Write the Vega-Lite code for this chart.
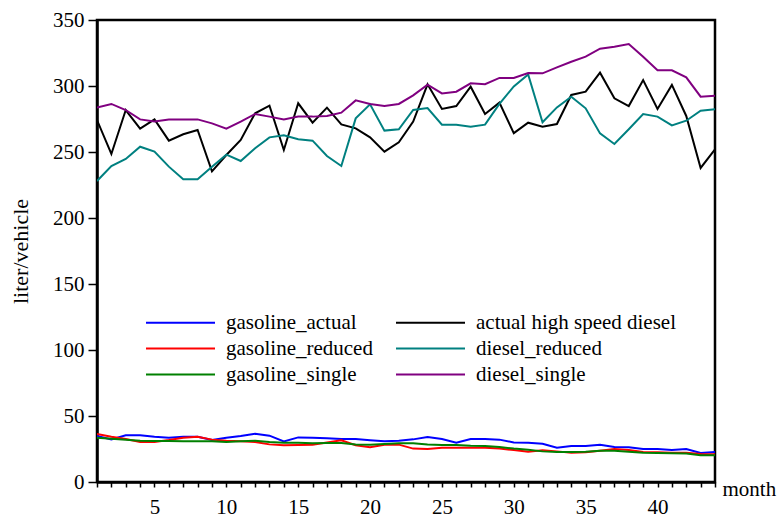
{
  "$schema": "https://vega.github.io/schema/vega-lite/v6.json",
  "width": 618,
  "height": 462,
  "autosize": {"type": "none"},
  "padding": {"left": 97, "top": 20, "right": 63, "bottom": 36},
  "background": "white",
  "config": {
    "font": "Liberation Serif",
    "view": {"stroke": "black", "strokeWidth": 2.5},
    "axis": {"grid": false, "labelFont": "Liberation Serif", "titleFont": "Liberation Serif", "labelColor": "black", "titleColor": "black", "tickColor": "black", "domainColor": "black", "labelFontSize": 21, "titleFontSize": 22, "titleFontWeight": "normal", "domainWidth": 2.5, "tickWidth": 1.5}
  },
  "datasets": {
    "d": [
      {"m":1,"s":"gasoline_actual","v":34.8},{"m":2,"s":"gasoline_actual","v":32.3},{"m":3,"s":"gasoline_actual","v":35.4},{"m":4,"s":"gasoline_actual","v":35.4},{"m":5,"s":"gasoline_actual","v":34.3},{"m":6,"s":"gasoline_actual","v":33.6},{"m":7,"s":"gasoline_actual","v":34.3},{"m":8,"s":"gasoline_actual","v":34.3},{"m":9,"s":"gasoline_actual","v":31.8},{"m":10,"s":"gasoline_actual","v":33.6},{"m":11,"s":"gasoline_actual","v":34.8},{"m":12,"s":"gasoline_actual","v":36.6},{"m":13,"s":"gasoline_actual","v":35.1},{"m":14,"s":"gasoline_actual","v":30.8},{"m":15,"s":"gasoline_actual","v":33.8},{"m":16,"s":"gasoline_actual","v":33.6},{"m":17,"s":"gasoline_actual","v":33.1},{"m":18,"s":"gasoline_actual","v":32.6},{"m":19,"s":"gasoline_actual","v":32.6},{"m":20,"s":"gasoline_actual","v":31.6},{"m":21,"s":"gasoline_actual","v":30.8},{"m":22,"s":"gasoline_actual","v":31.3},{"m":23,"s":"gasoline_actual","v":32.3},{"m":24,"s":"gasoline_actual","v":34.1},{"m":25,"s":"gasoline_actual","v":32.6},{"m":26,"s":"gasoline_actual","v":29.8},{"m":27,"s":"gasoline_actual","v":32.6},{"m":28,"s":"gasoline_actual","v":32.6},{"m":29,"s":"gasoline_actual","v":32.1},{"m":30,"s":"gasoline_actual","v":30.0},{"m":31,"s":"gasoline_actual","v":29.8},{"m":32,"s":"gasoline_actual","v":29.0},{"m":33,"s":"gasoline_actual","v":26.0},{"m":34,"s":"gasoline_actual","v":27.3},{"m":35,"s":"gasoline_actual","v":27.3},{"m":36,"s":"gasoline_actual","v":28.3},{"m":37,"s":"gasoline_actual","v":26.5},{"m":38,"s":"gasoline_actual","v":26.3},{"m":39,"s":"gasoline_actual","v":25.0},{"m":40,"s":"gasoline_actual","v":25.0},{"m":41,"s":"gasoline_actual","v":24.2},{"m":42,"s":"gasoline_actual","v":25.0},{"m":43,"s":"gasoline_actual","v":22.0},{"m":44,"s":"gasoline_actual","v":22.7},
      {"m":1,"s":"gasoline_reduced","v":36.4},{"m":2,"s":"gasoline_reduced","v":34.3},{"m":3,"s":"gasoline_reduced","v":32.6},{"m":4,"s":"gasoline_reduced","v":30.3},{"m":5,"s":"gasoline_reduced","v":30.3},{"m":6,"s":"gasoline_reduced","v":31.8},{"m":7,"s":"gasoline_reduced","v":33.6},{"m":8,"s":"gasoline_reduced","v":34.3},{"m":9,"s":"gasoline_reduced","v":32.1},{"m":10,"s":"gasoline_reduced","v":31.3},{"m":11,"s":"gasoline_reduced","v":30.8},{"m":12,"s":"gasoline_reduced","v":30.3},{"m":13,"s":"gasoline_reduced","v":28.5},{"m":14,"s":"gasoline_reduced","v":27.8},{"m":15,"s":"gasoline_reduced","v":28.0},{"m":16,"s":"gasoline_reduced","v":28.3},{"m":17,"s":"gasoline_reduced","v":30.0},{"m":18,"s":"gasoline_reduced","v":31.6},{"m":19,"s":"gasoline_reduced","v":27.8},{"m":20,"s":"gasoline_reduced","v":26.3},{"m":21,"s":"gasoline_reduced","v":28.3},{"m":22,"s":"gasoline_reduced","v":28.3},{"m":23,"s":"gasoline_reduced","v":25.3},{"m":24,"s":"gasoline_reduced","v":25.0},{"m":25,"s":"gasoline_reduced","v":26.0},{"m":26,"s":"gasoline_reduced","v":26.0},{"m":27,"s":"gasoline_reduced","v":26.0},{"m":28,"s":"gasoline_reduced","v":26.0},{"m":29,"s":"gasoline_reduced","v":25.3},{"m":30,"s":"gasoline_reduced","v":24.2},{"m":31,"s":"gasoline_reduced","v":23.0},{"m":32,"s":"gasoline_reduced","v":24.0},{"m":33,"s":"gasoline_reduced","v":23.2},{"m":34,"s":"gasoline_reduced","v":22.2},{"m":35,"s":"gasoline_reduced","v":22.5},{"m":36,"s":"gasoline_reduced","v":23.7},{"m":37,"s":"gasoline_reduced","v":25.0},{"m":38,"s":"gasoline_reduced","v":24.2},{"m":39,"s":"gasoline_reduced","v":22.7},{"m":40,"s":"gasoline_reduced","v":22.5},{"m":41,"s":"gasoline_reduced","v":22.2},{"m":42,"s":"gasoline_reduced","v":22.2},{"m":43,"s":"gasoline_reduced","v":21.2},{"m":44,"s":"gasoline_reduced","v":21.0},
      {"m":1,"s":"gasoline_single","v":33.6},{"m":2,"s":"gasoline_single","v":32.8},{"m":3,"s":"gasoline_single","v":32.1},{"m":4,"s":"gasoline_single","v":31.3},{"m":5,"s":"gasoline_single","v":31.1},{"m":6,"s":"gasoline_single","v":31.1},{"m":7,"s":"gasoline_single","v":30.8},{"m":8,"s":"gasoline_single","v":30.8},{"m":9,"s":"gasoline_single","v":30.8},{"m":10,"s":"gasoline_single","v":30.3},{"m":11,"s":"gasoline_single","v":30.8},{"m":12,"s":"gasoline_single","v":31.3},{"m":13,"s":"gasoline_single","v":30.3},{"m":14,"s":"gasoline_single","v":29.8},{"m":15,"s":"gasoline_single","v":29.8},{"m":16,"s":"gasoline_single","v":29.3},{"m":17,"s":"gasoline_single","v":29.5},{"m":18,"s":"gasoline_single","v":29.5},{"m":19,"s":"gasoline_single","v":28.5},{"m":20,"s":"gasoline_single","v":28.3},{"m":21,"s":"gasoline_single","v":28.8},{"m":22,"s":"gasoline_single","v":29.3},{"m":23,"s":"gasoline_single","v":29.3},{"m":24,"s":"gasoline_single","v":28.5},{"m":25,"s":"gasoline_single","v":28.0},{"m":26,"s":"gasoline_single","v":28.0},{"m":27,"s":"gasoline_single","v":27.5},{"m":28,"s":"gasoline_single","v":27.3},{"m":29,"s":"gasoline_single","v":26.5},{"m":30,"s":"gasoline_single","v":25.3},{"m":31,"s":"gasoline_single","v":24.5},{"m":32,"s":"gasoline_single","v":23.2},{"m":33,"s":"gasoline_single","v":22.7},{"m":34,"s":"gasoline_single","v":22.7},{"m":35,"s":"gasoline_single","v":23.0},{"m":36,"s":"gasoline_single","v":23.7},{"m":37,"s":"gasoline_single","v":23.7},{"m":38,"s":"gasoline_single","v":23.0},{"m":39,"s":"gasoline_single","v":22.2},{"m":40,"s":"gasoline_single","v":22.0},{"m":41,"s":"gasoline_single","v":21.7},{"m":42,"s":"gasoline_single","v":21.5},{"m":43,"s":"gasoline_single","v":20.2},{"m":44,"s":"gasoline_single","v":20.2},
      {"m":1,"s":"actual high speed diesel","v":274.2},{"m":2,"s":"actual high speed diesel","v":248.5},{"m":3,"s":"actual high speed diesel","v":281.8},{"m":4,"s":"actual high speed diesel","v":267.7},{"m":5,"s":"actual high speed diesel","v":274.7},{"m":6,"s":"actual high speed diesel","v":258.6},{"m":7,"s":"actual high speed diesel","v":263.4},{"m":8,"s":"actual high speed diesel","v":266.7},{"m":9,"s":"actual high speed diesel","v":235.3},{"m":10,"s":"actual high speed diesel","v":247.7},{"m":11,"s":"actual high speed diesel","v":259.1},{"m":12,"s":"actual high speed diesel","v":279.3},{"m":13,"s":"actual high speed diesel","v":285.1},{"m":14,"s":"actual high speed diesel","v":251.5},{"m":15,"s":"actual high speed diesel","v":286.9},{"m":16,"s":"actual high speed diesel","v":272.2},{"m":17,"s":"actual high speed diesel","v":283.6},{"m":18,"s":"actual high speed diesel","v":270.9},{"m":19,"s":"actual high speed diesel","v":267.9},{"m":20,"s":"actual high speed diesel","v":261.1},{"m":21,"s":"actual high speed diesel","v":250.3},{"m":22,"s":"actual high speed diesel","v":257.3},{"m":23,"s":"actual high speed diesel","v":273.0},{"m":24,"s":"actual high speed diesel","v":301.3},{"m":25,"s":"actual high speed diesel","v":282.6},{"m":26,"s":"actual high speed diesel","v":284.8},{"m":27,"s":"actual high speed diesel","v":299.5},{"m":28,"s":"actual high speed diesel","v":278.8},{"m":29,"s":"actual high speed diesel","v":287.4},{"m":30,"s":"actual high speed diesel","v":264.3},{"m":31,"s":"actual high speed diesel","v":272.2},{"m":32,"s":"actual high speed diesel","v":269.2},{"m":33,"s":"actual high speed diesel","v":271.2},{"m":34,"s":"actual high speed diesel","v":293.2},{"m":35,"s":"actual high speed diesel","v":295.7},{"m":36,"s":"actual high speed diesel","v":310.1},{"m":37,"s":"actual high speed diesel","v":290.7},{"m":38,"s":"actual high speed diesel","v":284.8},{"m":39,"s":"actual high speed diesel","v":304.5},{"m":40,"s":"actual high speed diesel","v":282.6},{"m":41,"s":"actual high speed diesel","v":300.8},{"m":42,"s":"actual high speed diesel","v":277.3},{"m":43,"s":"actual high speed diesel","v":237.9},{"m":44,"s":"actual high speed diesel","v":252.0},
      {"m":1,"s":"diesel_reduced","v":228.0},{"m":2,"s":"diesel_reduced","v":239.4},{"m":3,"s":"diesel_reduced","v":244.7},{"m":4,"s":"diesel_reduced","v":254.0},{"m":5,"s":"diesel_reduced","v":250.3},{"m":6,"s":"diesel_reduced","v":238.9},{"m":7,"s":"diesel_reduced","v":229.3},{"m":8,"s":"diesel_reduced","v":229.3},{"m":9,"s":"diesel_reduced","v":238.9},{"m":10,"s":"diesel_reduced","v":248.0},{"m":11,"s":"diesel_reduced","v":243.2},{"m":12,"s":"diesel_reduced","v":252.8},{"m":13,"s":"diesel_reduced","v":261.1},{"m":14,"s":"diesel_reduced","v":262.6},{"m":15,"s":"diesel_reduced","v":259.6},{"m":16,"s":"diesel_reduced","v":258.6},{"m":17,"s":"diesel_reduced","v":247.0},{"m":18,"s":"diesel_reduced","v":239.4},{"m":19,"s":"diesel_reduced","v":275.5},{"m":20,"s":"diesel_reduced","v":286.1},{"m":21,"s":"diesel_reduced","v":266.2},{"m":22,"s":"diesel_reduced","v":267.2},{"m":23,"s":"diesel_reduced","v":281.8},{"m":24,"s":"diesel_reduced","v":283.3},{"m":25,"s":"diesel_reduced","v":270.7},{"m":26,"s":"diesel_reduced","v":270.7},{"m":27,"s":"diesel_reduced","v":269.2},{"m":28,"s":"diesel_reduced","v":270.7},{"m":29,"s":"diesel_reduced","v":286.4},{"m":30,"s":"diesel_reduced","v":299.7},{"m":31,"s":"diesel_reduced","v":308.8},{"m":32,"s":"diesel_reduced","v":272.5},{"m":33,"s":"diesel_reduced","v":283.8},{"m":34,"s":"diesel_reduced","v":291.9},{"m":35,"s":"diesel_reduced","v":283.1},{"m":36,"s":"diesel_reduced","v":264.1},{"m":37,"s":"diesel_reduced","v":256.1},{"m":38,"s":"diesel_reduced","v":267.2},{"m":39,"s":"diesel_reduced","v":278.8},{"m":40,"s":"diesel_reduced","v":276.8},{"m":41,"s":"diesel_reduced","v":270.2},{"m":42,"s":"diesel_reduced","v":273.7},{"m":43,"s":"diesel_reduced","v":281.3},{"m":44,"s":"diesel_reduced","v":282.3},
      {"m":1,"s":"diesel_single","v":283.6},{"m":2,"s":"diesel_single","v":286.4},{"m":3,"s":"diesel_single","v":281.8},{"m":4,"s":"diesel_single","v":274.7},{"m":5,"s":"diesel_single","v":273.2},{"m":6,"s":"diesel_single","v":274.7},{"m":7,"s":"diesel_single","v":274.7},{"m":8,"s":"diesel_single","v":274.7},{"m":9,"s":"diesel_single","v":271.7},{"m":10,"s":"diesel_single","v":267.7},{"m":11,"s":"diesel_single","v":273.0},{"m":12,"s":"diesel_single","v":278.8},{"m":13,"s":"diesel_single","v":276.8},{"m":14,"s":"diesel_single","v":274.7},{"m":15,"s":"diesel_single","v":276.8},{"m":16,"s":"diesel_single","v":276.8},{"m":17,"s":"diesel_single","v":277.3},{"m":18,"s":"diesel_single","v":279.8},{"m":19,"s":"diesel_single","v":289.1},{"m":20,"s":"diesel_single","v":286.4},{"m":21,"s":"diesel_single","v":284.8},{"m":22,"s":"diesel_single","v":286.4},{"m":23,"s":"diesel_single","v":292.9},{"m":24,"s":"diesel_single","v":301.0},{"m":25,"s":"diesel_single","v":294.4},{"m":26,"s":"diesel_single","v":295.7},{"m":27,"s":"diesel_single","v":302.0},{"m":28,"s":"diesel_single","v":301.3},{"m":29,"s":"diesel_single","v":306.1},{"m":30,"s":"diesel_single","v":306.1},{"m":31,"s":"diesel_single","v":309.8},{"m":32,"s":"diesel_single","v":309.6},{"m":33,"s":"diesel_single","v":314.1},{"m":34,"s":"diesel_single","v":318.4},{"m":35,"s":"diesel_single","v":322.2},{"m":36,"s":"diesel_single","v":328.3},{"m":37,"s":"diesel_single","v":329.8},{"m":38,"s":"diesel_single","v":331.8},{"m":39,"s":"diesel_single","v":322.2},{"m":40,"s":"diesel_single","v":311.9},{"m":41,"s":"diesel_single","v":311.9},{"m":42,"s":"diesel_single","v":306.6},{"m":43,"s":"diesel_single","v":291.9},{"m":44,"s":"diesel_single","v":292.7}
    ]
  },
  "data": {"name": "d"},
  "mark": {"type": "line", "clip": true},
  "encoding": {
    "x": {
      "field": "m", "type": "quantitative",
      "scale": {"domain": [1, 44], "nice": false, "zero": false},
      "axis": {
        "values": [1,2,3,4,5,6,7,8,9,10,11,12,13,14,15,16,17,18,19,20,21,22,23,24,25,26,27,28,29,30,31,32,33,34,35,36,37,38,39,40,41,42,43,44],
        "labelExpr": "datum.value % 5 === 0 ? datum.label : ''",
        "tickSize": 5, "labelPadding": 9, "labelOverlap": false, "labelFlush": false,
        "title": "month", "titleFontSize": 21, "titleX": 625, "titleY": 13, "titleAlign": "left", "titleBaseline": "alphabetic", "titleAnchor": null
      }
    },
    "y": {
      "field": "v", "type": "quantitative",
      "scale": {"domain": [0, 350], "nice": false},
      "axis": {
        "values": [0,50,100,150,200,250,300,350],
        "tickSize": 9, "labelPadding": 4,
        "title": "liter/vehicle", "titleX": -77, "titleBaseline": "middle"
      }
    },
    "color": {
      "field": "s", "type": "nominal",
      "scale": {
        "domain": ["gasoline_actual", "gasoline_reduced", "gasoline_single", "actual high speed diesel", "diesel_reduced", "diesel_single"],
        "range": ["#0000FF", "#FF0000", "#008000", "#000000", "#008080", "#800080"]
      },
      "legend": {
        "title": null, "orient": "none", "legendX": 48, "legendY": 290,
        "columns": 2, "columnPadding": 19, "rowPadding": 3,
        "symbolType": "M-3,0H3", "symbolSize": 529, "symbolStrokeWidth": 2, "symbolOffset": 23,
        "labelFont": "Liberation Serif", "labelFontSize": 21, "labelColor": "black",
        "labelOffset": 33, "labelLimit": 400, "padding": 0
      }
    },
    "strokeWidth": {
      "field": "s", "type": "nominal",
      "scale": {
        "domain": ["gasoline_actual", "gasoline_reduced", "gasoline_single", "actual high speed diesel", "diesel_reduced", "diesel_single"],
        "range": [2, 2, 2, 2.5, 1.8, 1.8]
      },
      "legend": null
    }
  }
}
